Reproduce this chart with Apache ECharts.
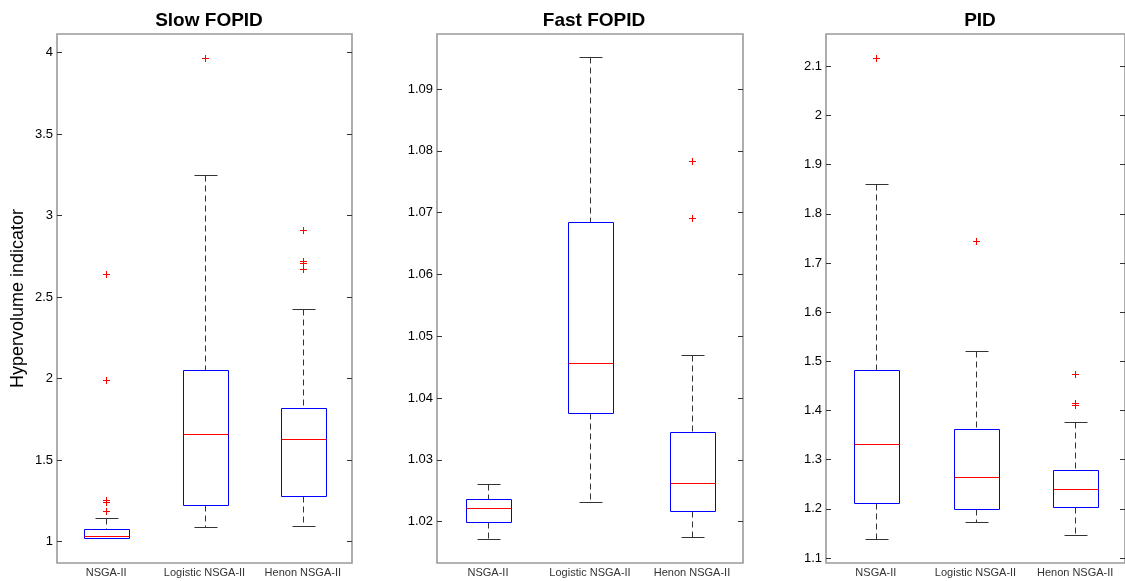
<!DOCTYPE html>
<html>
<head>
<meta charset="utf-8">
<script src="https://cdn.jsdelivr.net/npm/echarts@6/dist/echarts.min.js"></script>
<style>
html,body{margin:0;padding:0;background:#fff;}
#chart{width:1125px;height:581px;}
</style>
</head>
<body>
<div id="chart"></div>
<script>
// ---------- data ----------
const categories = ['NSGA-II', 'Logistic NSGA-II', 'Henon NSGA-II'];
const titles = ['Slow FOPID', 'Fast FOPID', 'PID'];
const yName = 'Hypervolume indicator';

// Slow FOPID
const slowLow    = [1.021, 1.086, 1.094];
const slowQ1     = [1.024, 1.223, 1.279];
const slowMedian = [1.031, 1.659, 1.628];
const slowQ3     = [1.076, 2.053, 1.818];
const slowHigh   = [1.144, 3.250, 2.428];
const slowOutliers = [[0, 1.188], [0, 1.239], [0, 1.254], [0, 1.992], [0, 2.640],
                      [1, 3.969],
                      [2, 2.671], [2, 2.708], [2, 2.720], [2, 2.910]];
const slowTicks = ['1', '1.5', '2', '2.5', '3', '3.5', '4'];

// Fast FOPID
const fastLow    = [1.01725, 1.0232, 1.01748];
const fastQ1     = [1.01995, 1.03765, 1.0218];
const fastMedian = [1.0222, 1.0457, 1.0262];
const fastQ3     = [1.02362, 1.0685, 1.0345];
const fastHigh   = [1.0261, 1.0951, 1.0469];
const fastOutliers = [[2, 1.0691], [2, 1.0783]];
const fastTicks = ['1.02', '1.03', '1.04', '1.05', '1.06', '1.07', '1.08', '1.09'];

// PID
const pidLow    = [1.1392, 1.1736, 1.1468];
const pidQ1     = [1.2122, 1.2000, 1.2028];
const pidMedian = [1.3317, 1.2657, 1.2408];
const pidQ3     = [1.4822, 1.3632, 1.2787];
const pidHigh   = [1.8600, 1.5215, 1.3762];
const pidOutliers = [[0, 2.1175], [1, 1.7451], [2, 1.4110], [2, 1.4160], [2, 1.4732]];
const pidTicks = ['1.1', '1.2', '1.3', '1.4', '1.5', '1.6', '1.7', '1.8', '1.9', '2', '2.1'];

// ---------- layout / style ----------
const panels = [
  {low: slowLow, q1: slowQ1, med: slowMedian, q3: slowQ3, high: slowHigh, out: slowOutliers, ticks: slowTicks,
   min: 0.8675, max: 4.1147, left: 57, width: 295, titleX: 204},
  {low: fastLow, q1: fastQ1, med: fastMedian, q3: fastQ3, high: fastHigh, out: fastOutliers, ticks: fastTicks,
   min: 1.01332, max: 1.0989, left: 437, width: 306, titleX: 589},
  {low: pidLow, q1: pidQ1, med: pidMedian, q3: pidQ3, high: pidHigh, out: pidOutliers, ticks: pidTicks,
   min: 1.0898, max: 2.1657, left: 826, width: 300, titleX: 975}
];
const TOP = 34, HEIGHT = 529;
const FONT = 'Liberation Sans, Arial, Helvetica, sans-serif';

const px = v => Math.round(v) + 0.5;

function boxRender(params, api) {
  const i = api.value(0);
  const band = api.size([1, 0])[0];
  const half = band * 0.45 / 2;
  const capHalf = band * 0.225 / 2;
  const cx = px(api.coord([i, 0])[0]);
  const y = v => px(api.coord([i, v])[1]);
  const yl = y(api.value(1)), yq1 = y(api.value(2)), ym = y(api.value(3)),
        yq3 = y(api.value(4)), yh = y(api.value(5));
  const x0 = px(cx - half), x1 = px(cx + half);
  const dash = {stroke: '#333', lineWidth: 1, lineDash: [6, 4], fill: null};
  const solid = c => ({stroke: c, lineWidth: 1, fill: null});
  return {
    type: 'group',
    children: [
      {type: 'line', shape: {x1: cx, y1: yh, x2: cx, y2: yq3}, style: dash},
      {type: 'line', shape: {x1: cx, y1: yq1, x2: cx, y2: yl}, style: dash},
      {type: 'line', shape: {x1: px(cx - capHalf), y1: yh, x2: px(cx + capHalf), y2: yh}, style: solid('#333')},
      {type: 'line', shape: {x1: px(cx - capHalf), y1: yl, x2: px(cx + capHalf), y2: yl}, style: solid('#333')},
      {type: 'rect', shape: {x: x0, y: yq3, width: x1 - x0, height: yq1 - yq3}, style: {stroke: '#0000ff', lineWidth: 1, fill: null}},
      {type: 'line', shape: {x1: x0, y1: ym, x2: x1, y2: ym}, style: solid('#ff0000')}
    ]
  };
}

function outlierRender(params, api) {
  const p = api.coord([api.value(0), api.value(1)]);
  const x = px(p[0]), y = px(p[1]), s = 3.5;
  const st = {stroke: '#ff0000', lineWidth: 1};
  return {
    type: 'group',
    children: [
      {type: 'line', shape: {x1: x - s, y1: y, x2: x + s, y2: y}, style: st},
      {type: 'line', shape: {x1: x, y1: y - s, x2: x, y2: y + s}, style: st}
    ]
  };
}

const option = {
  animation: false,
  backgroundColor: '#fff',
  textStyle: {fontFamily: FONT},
  title: panels.map((p, k) => ({
    text: titles[k], left: p.titleX, top: 6, textAlign: 'center',
    textStyle: {fontSize: 19, fontWeight: 'bold', color: '#000', fontFamily: FONT}
  })),
  grid: panels.map(p => ({
    left: p.left, top: TOP, width: p.width, height: HEIGHT,
    show: true, borderColor: '#9a9a9a', borderWidth: 1.6, backgroundColor: 'transparent'
  })),
  xAxis: panels.map((p, k) => ({
    type: 'category', gridIndex: k, data: categories, boundaryGap: true,
    axisLine: {show: false}, axisTick: {show: false}, splitLine: {show: false},
    axisLabel: {fontSize: 11, color: '#333', margin: 4, interval: 0, fontFamily: FONT}
  })),
  yAxis: panels.flatMap((p, k) => {
    const vals = p.ticks.map(Number);
    const fmt = v => { const j = vals.findIndex(t => Math.abs(t - v) < 1e-9); return j >= 0 ? p.ticks[j] : ''; };
    return [
      {type: 'value', gridIndex: k, position: 'left', min: p.min, max: p.max,
       name: k === 0 ? yName : '', nameLocation: 'middle', nameGap: 30,
       nameTextStyle: {fontSize: 18, color: '#000', fontFamily: FONT},
       axisLine: {show: false}, splitLine: {show: false},
       axisTick: {show: true, inside: true, length: 5, customValues: vals, lineStyle: {color: '#333'}},
       axisLabel: {show: true, customValues: vals, formatter: fmt, fontSize: 13, color: '#000', margin: 4, fontFamily: FONT}},
      {type: 'value', gridIndex: k, position: 'right', min: p.min, max: p.max,
       axisLine: {show: false}, splitLine: {show: false},
       axisTick: {show: true, inside: true, length: 5, customValues: vals, lineStyle: {color: '#333'}},
       axisLabel: {show: false}}
    ];
  }),
  series: panels.flatMap((p, k) => [
    {type: 'custom', xAxisIndex: k, yAxisIndex: 2 * k, renderItem: boxRender,
     encode: {x: 0, y: [1, 2, 3, 4, 5]},
     data: categories.map((c, i) => [i, p.low[i], p.q1[i], p.med[i], p.q3[i], p.high[i]])},
    {type: 'custom', xAxisIndex: k, yAxisIndex: 2 * k, renderItem: outlierRender,
     encode: {x: 0, y: 1},
     data: p.out}
  ])
};

const chart = echarts.init(document.getElementById('chart'), null, {renderer: 'canvas'});
chart.setOption(option);
</script>
</body>
</html>
